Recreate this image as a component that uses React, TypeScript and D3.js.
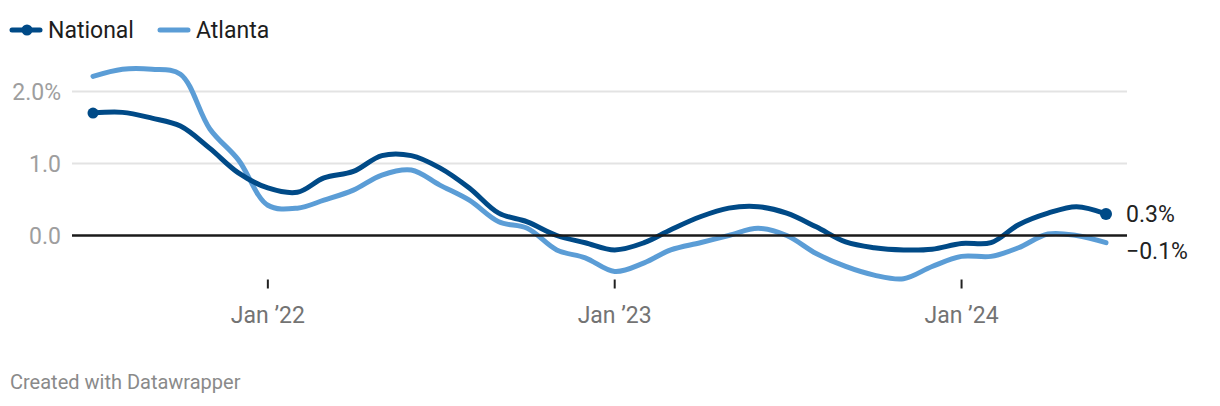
import React from "react";
import * as d3 from "d3";

const months: string[] = [
  "2021-07", "2021-08", "2021-09", "2021-10", "2021-11", "2021-12",
  "2022-01", "2022-02", "2022-03", "2022-04", "2022-05", "2022-06",
  "2022-07", "2022-08", "2022-09", "2022-10", "2022-11", "2022-12",
  "2023-01", "2023-02", "2023-03", "2023-04", "2023-05", "2023-06",
  "2023-07", "2023-08", "2023-09", "2023-10", "2023-11", "2023-12",
  "2024-01", "2024-02", "2024-03", "2024-04", "2024-05", "2024-06",
];

const national: number[] = [
  1.70, 1.71, 1.63, 1.52, 1.21, 0.87,
  0.66, 0.60, 0.80, 0.89, 1.11, 1.11,
  0.94, 0.66, 0.31, 0.19, 0.00, -0.10,
  -0.20, -0.10, 0.08, 0.26, 0.38, 0.40,
  0.31, 0.12, -0.09, -0.17, -0.20, -0.19,
  -0.11, -0.10, 0.15, 0.31, 0.40, 0.30,
];

const atlanta: number[] = [
  2.21, 2.31, 2.31, 2.24, 1.48, 1.05,
  0.42, 0.38, 0.49, 0.63, 0.84, 0.91,
  0.70, 0.49, 0.19, 0.10, -0.20, -0.31,
  -0.50, -0.38, -0.20, -0.10, 0.00, 0.10,
  0.00, -0.25, -0.43, -0.55, -0.60, -0.43,
  -0.29, -0.29, -0.17, 0.02, 0.00, -0.10,
];

const yTicks: number[] = [0, 1, 2];
const yTickLabels: string[] = ["0.0", "1.0", "2.0%"];
const xTicks: string[] = ["2022-01", "2023-01", "2024-01"];
const xTickLabels: string[] = ["Jan ’22", "Jan ’23", "Jan ’24"];
const seriesNames: string[] = ["National", "Atlanta"];
const endLabels: string[] = ["0.3%", "−0.1%"];

const W = 1220;
const H = 406;
const FONT = "Roboto, 'Noto Sans', sans-serif";
const C_NAT = "#004a87";
const C_ATL = "#5b9dd6";

const parse = (s: string) => {
  const [y, m] = s.split("-").map(Number);
  return new Date(Date.UTC(y, m - 1, 1));
};

export default function App() {
  const dates = months.map(parse);
  const x = d3
    .scaleUtc()
    .domain([dates[0], dates[dates.length - 1]])
    .range([93, 1106]);
  const y = d3.scaleLinear().domain([0, 2]).range([235.5, 91.5]);
  const gridX0 = 72;
  const gridX1 = 1127;

  const line = d3
    .line<number>()
    .x((_, i) => x(dates[i]))
    .y((d) => y(d))
    .curve(d3.curveCatmullRom.alpha(0.5));

  const lastI = dates.length - 1;

  return (
    <svg
      width={W}
      height={H}
      style={{ position: "fixed", left: 0, top: 0, background: "#fff" }}
      fontFamily={FONT}
    >
      {/* legend */}
      <g>
        <line x1={12} x2={40} y1={30} y2={30} stroke={C_NAT} strokeWidth={5} strokeLinecap="round" />
        <circle cx={27} cy={30} r={5.5} fill={C_NAT} />
        <text x={48} y={38} fontSize={23} fill="#1d1d1d">{seriesNames[0]}</text>
        <line x1={160} x2={188} y1={30} y2={30} stroke={C_ATL} strokeWidth={5} strokeLinecap="round" />
        <text x={196} y={38} fontSize={23} fill="#1d1d1d">{seriesNames[1]}</text>
      </g>

      {/* grid */}
      {yTicks.map((t, i) => (
        <g key={t}>
          {t !== 0 && (
            <line x1={gridX0} x2={gridX1} y1={y(t)} y2={y(t)} stroke="#e3e3e3" strokeWidth={2} />
          )}
          <text x={61} y={y(t) + 8.5} fontSize={23} fill="#9e9e9e" textAnchor="end">
            {yTickLabels[i]}
          </text>
        </g>
      ))}

      {/* x ticks */}
      {xTicks.map((t, i) => {
        const xx = x(parse(t));
        return (
          <g key={t}>
            <line x1={xx} x2={xx} y1={279.5} y2={288.5} stroke="#222" strokeWidth={2} />
            <text x={xx} y={323} fontSize={23} fill="#737373" textAnchor="middle">
              {xTickLabels[i]}
            </text>
          </g>
        );
      })}

      {/* lines */}
      <path d={line(atlanta) || ""} fill="none" stroke={C_ATL} strokeWidth={5} strokeLinecap="round" strokeLinejoin="round" />
      <path d={line(national) || ""} fill="none" stroke={C_NAT} strokeWidth={5} strokeLinecap="round" strokeLinejoin="round" />

      {/* zero line */}
      <line x1={gridX0} x2={gridX1} y1={y(0)} y2={y(0)} stroke="#1a1a1a" strokeWidth={2.5} />

      {/* dots */}
      <circle cx={x(dates[0])} cy={y(national[0])} r={5.5} fill={C_NAT} />
      <circle cx={x(dates[lastI])} cy={y(national[lastI])} r={6} fill={C_NAT} />

      {/* end labels */}
      <text x={1126} y={y(national[lastI]) + 8} fontSize={23} fill="#222">{endLabels[0]}</text>
      <text x={1126} y={y(atlanta[lastI]) + 16} fontSize={23} fill="#222">{endLabels[1]}</text>

      {/* footer */}
      <text x={10} y={389} fontSize={20} fill="#8a8a8a">Created with Datawrapper</text>
    </svg>
  );
}
